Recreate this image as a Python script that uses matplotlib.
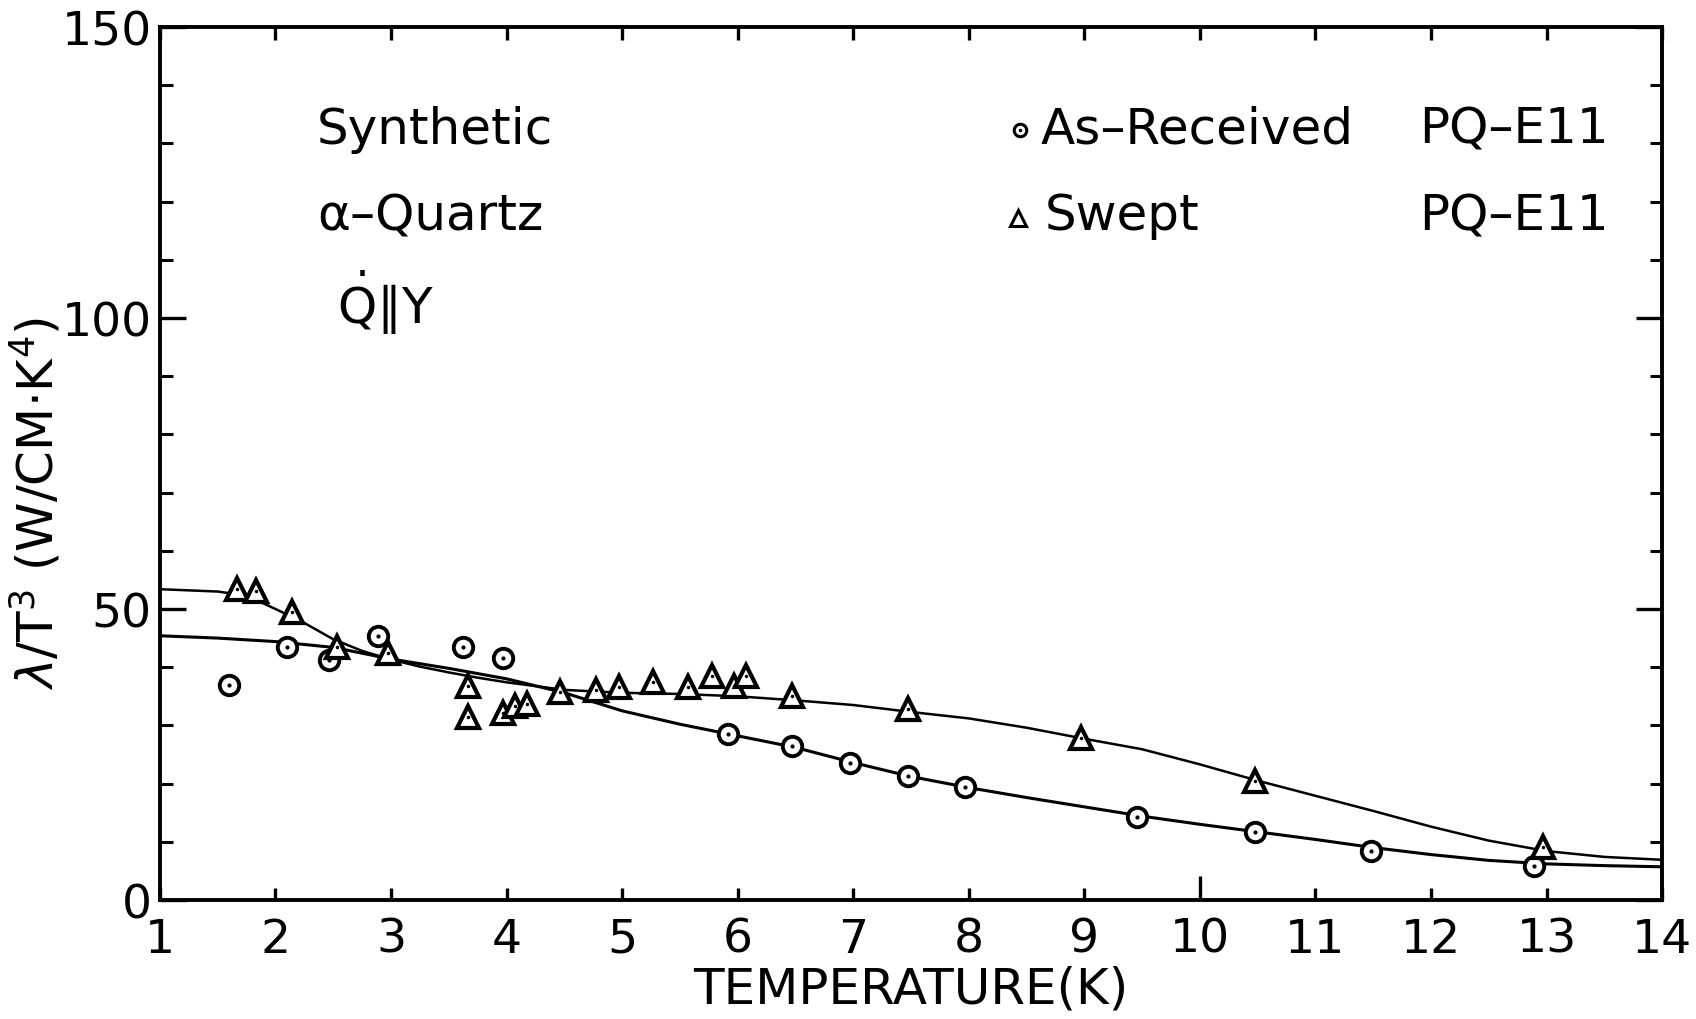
import matplotlib
matplotlib.use('Agg')
import matplotlib.pyplot as plt

plt.rcParams['font.family'] = ['DejaVu Sans']
plt.rcParams['mathtext.fontset'] = 'dejavusans'

# as-received PQ-E11 (circles)
t_recv = [1.60, 2.10, 2.46, 2.89, 3.62, 3.97, 5.92, 6.47, 6.97, 7.47, 7.97, 9.46, 10.48, 11.48, 12.89]
k_recv = [36.9, 43.5, 41.2, 45.4, 43.5, 41.5, 28.5, 26.5, 23.5, 21.3, 19.4, 14.3, 11.7, 8.5, 5.8]

# swept PQ-E11 (triangles)
t_swept = [1.67, 1.83, 2.14, 2.53, 2.97, 3.67, 3.67, 3.97, 4.07, 4.18, 4.46, 4.77, 4.97,
           5.27, 5.57, 5.78, 5.97, 6.07, 6.47, 7.47, 8.97, 10.48, 12.97]
k_swept = [53.4, 53.1, 49.5, 43.5, 42.4, 36.8, 31.4, 32.1, 33.3, 33.7, 35.7, 36.1, 36.6,
           37.5, 36.6, 38.5, 36.8, 38.5, 35.0, 32.8, 27.8, 20.4, 9.1]

# fitted curves
t_curve = [1.0, 1.5, 1.75, 2.0, 2.25, 2.5, 2.75, 3.0, 3.25, 3.5, 3.75, 4.0, 4.5, 5.0, 5.5, 6.0,
           6.5, 7.0, 7.5, 8.0, 8.5, 9.0, 9.5, 10.0, 10.5, 11.0, 11.5, 12.0, 12.5, 13.0, 13.5, 14.0]
k_curve_swept = [53.4, 53.0, 52.3, 50.0, 47.6, 44.8, 42.8, 41.3, 40.1, 39.1, 38.2, 37.4, 36.1, 35.6,
                 35.4, 35.0, 34.3, 33.5, 32.3, 31.2, 29.6, 27.7, 25.9, 23.3, 20.5, 17.9, 15.3,
                 12.6, 10.2, 8.4, 7.4, 6.9]
k_curve_recv = [45.4, 45.0, 44.7, 44.4, 43.9, 43.4, 42.4, 41.4, 40.6, 39.8, 38.9, 38.0, 35.6, 32.5,
                30.2, 28.2, 26.2, 23.6, 21.2, 19.3, 17.6, 16.0, 14.4, 13.0, 11.7, 10.4, 9.0,
                7.8, 6.8, 6.2, 5.9, 5.7]

x_ticks = list(range(1, 15))
y_major = [0, 50, 100, 150]
y_minor = list(range(0, 151, 10))

fs = 36

fig = plt.figure(figsize=(16.96, 10.2), dpi=100)
ax = fig.add_axes([0.0943, 0.1167, 0.8857, 0.8558])

ax.plot(t_curve, k_curve_swept, color='black', lw=1.8)
ax.plot(t_curve, k_curve_recv, color='black', lw=2.2)

ax.plot(t_recv, k_recv, 'o', ms=14, mfc='white', mec='black', mew=2.8, ls='none')
ax.plot(t_recv, k_recv, '.', ms=4, color='black', ls='none')
ax.plot(t_swept, k_swept, '^', ms=16, mfc='white', mec='black', mew=3.0, ls='none')
ax.plot(t_swept, k_swept, '.', ms=3, color='black', ls='none')

ax.set_xlim(1, 14)
ax.set_ylim(0, 150)
ax.set_xticks(x_ticks)
ax.set_yticks(y_major)
ax.set_yticks(y_minor, minor=True)

for s in ax.spines.values():
    s.set_linewidth(2.8)

ax.tick_params(axis='both', which='major', direction='in', width=2.4, labelsize=34,
               top=True, right=True)
ax.tick_params(axis='x', which='major', length=9, pad=12)
ax.tick_params(axis='y', which='major', length=19, pad=6)
ax.tick_params(axis='y', which='minor', direction='in', length=9, width=2.2, right=True)
# the tick at 10 K is drawn longer on the bottom axis
ax.xaxis.get_major_ticks()[9].tick1line.set_markersize(17)

ax.set_xlabel('TEMPERATURE(K)', fontsize=fs)
ax.xaxis.set_label_coords(0.5, -0.074)
ax.set_ylabel(r'$\lambda$/T$^{3}$ (W/CM$\cdot$K$^{4}$)', fontsize=36)
ax.yaxis.set_label_coords(-0.064, 0.455)

ax.text(2.36, 132.5, 'Synthetic', fontsize=fs, va='center', ha='left')
ax.text(2.36, 117.7, '\u03b1\u2013Quartz', fontsize=fs, va='center', ha='left')
ax.text(2.53, 102.7, r'$\dot{\mathrm{Q}}$' + '\u2225Y', fontsize=fs, va='center', ha='left')

ax.plot([8.44], [132.3], 'o', ms=9, mfc='white', mec='black', mew=2.2)
ax.plot([8.44], [132.3], '.', ms=3, color='black')
ax.text(8.62, 132.5, 'As\u2013Received', fontsize=fs, va='center', ha='left')
ax.text(11.9, 132.5, 'PQ\u2013E11', fontsize=fs, va='center', ha='left')
ax.plot([8.43], [117.2], '^', ms=11, mfc='white', mec='black', mew=2.2)
ax.text(8.66, 117.7, 'Swept', fontsize=fs, va='center', ha='left')
ax.text(11.9, 117.7, 'PQ\u2013E11', fontsize=fs, va='center', ha='left')

fig.savefig('out.png', dpi=100)
